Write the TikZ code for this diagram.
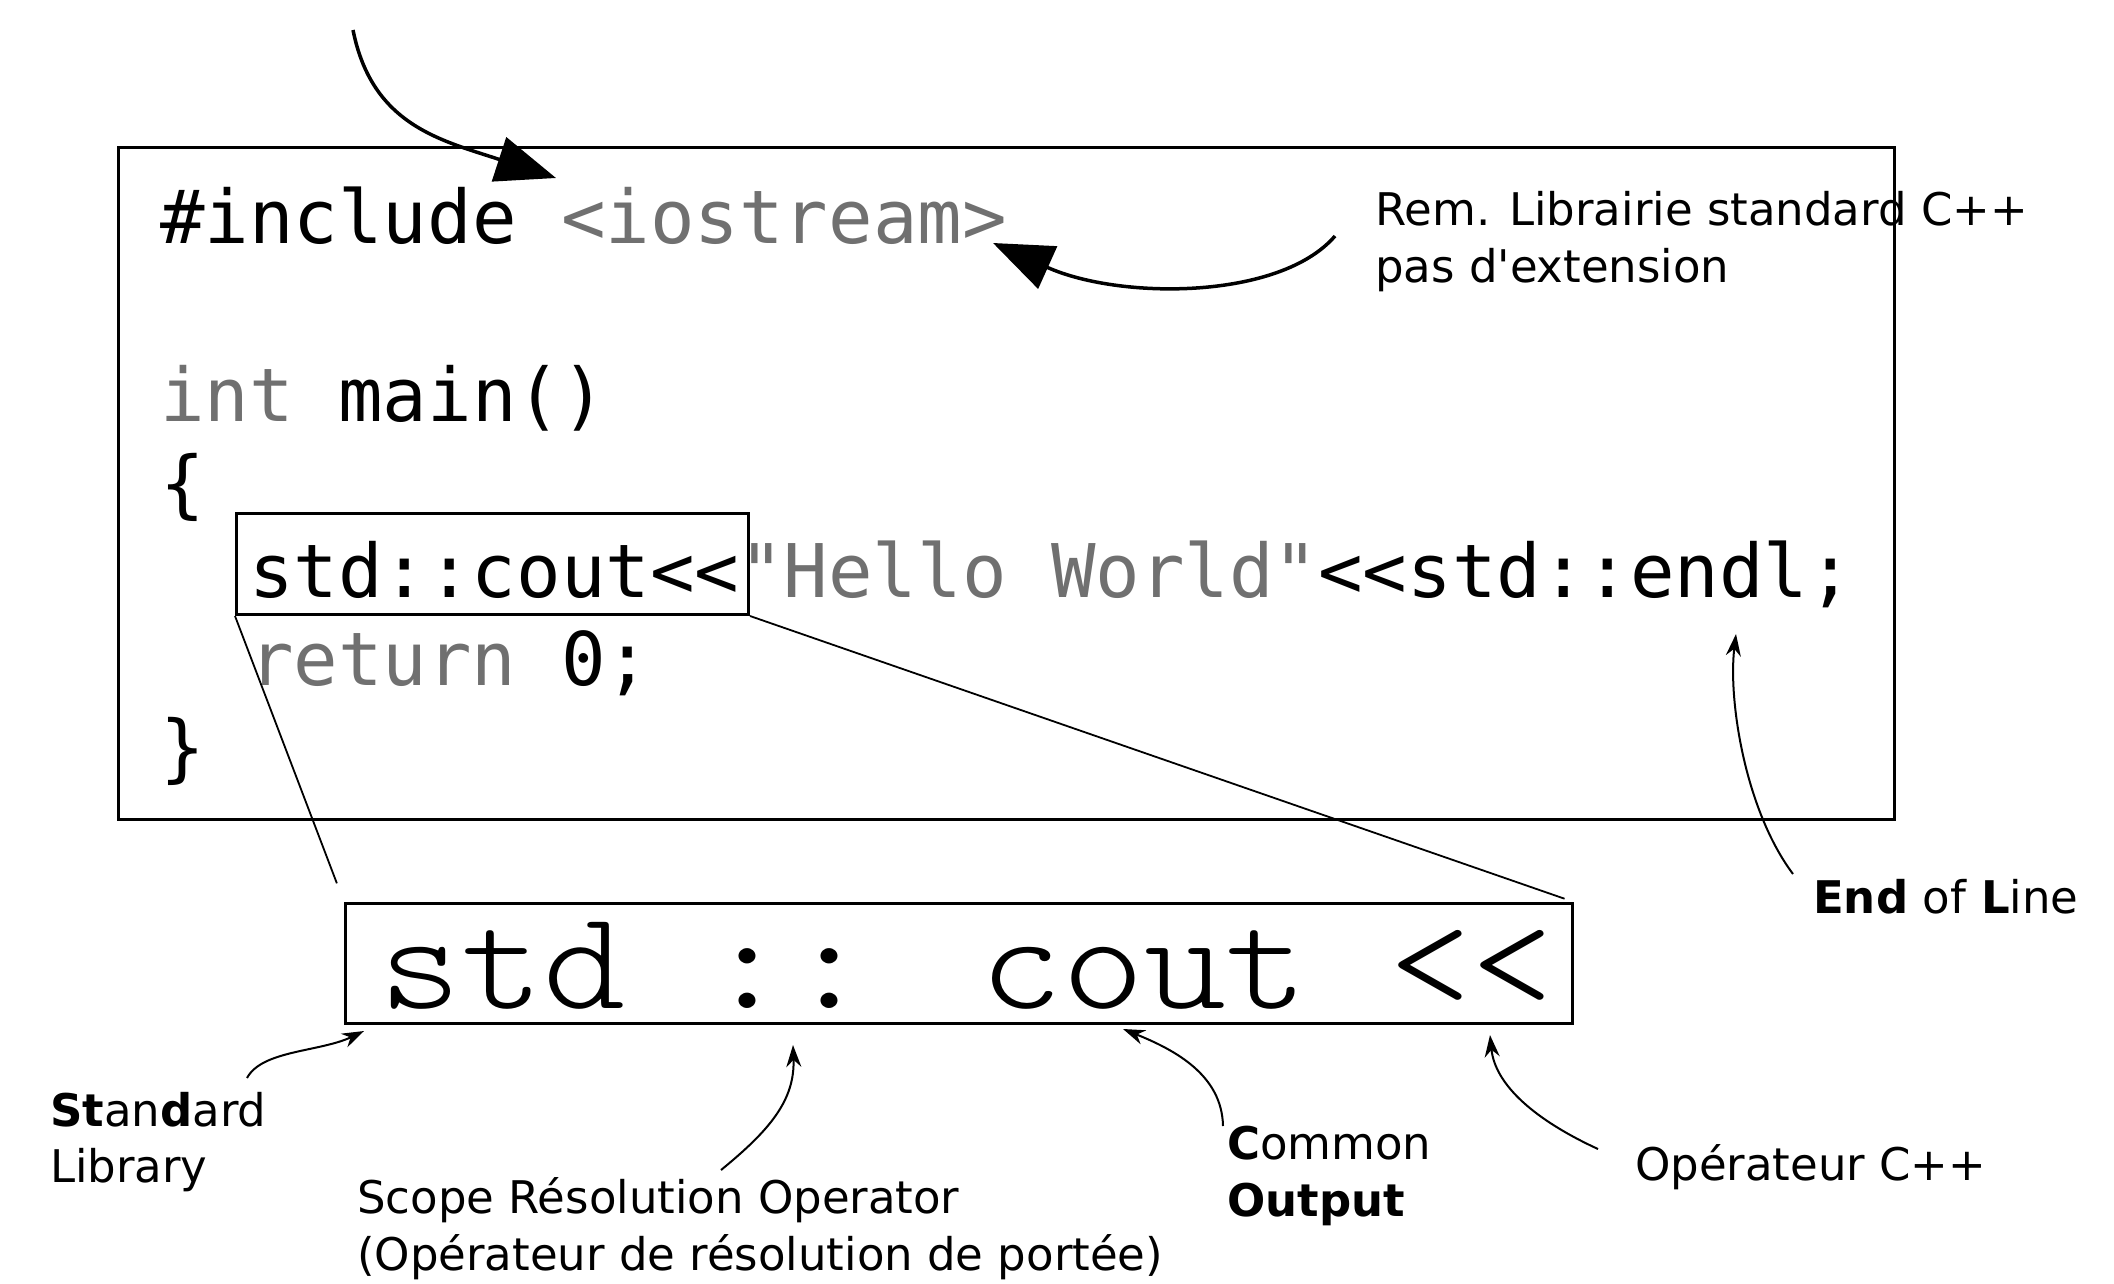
\documentclass[tikz,border=0pt]{standalone}
\usepackage{fontspec}
\usepackage{graphicx}
\usetikzlibrary{arrows.meta}
\newfontfamily\codefont{DejaVu Sans Mono}[Ligatures=TeXOff]
\newfontfamily\annfont{DejaVu Sans}[Ligatures=TeXOff]
\definecolor{codegray}{HTML}{707070}
\begin{document}
\begin{tikzpicture}[x=1pt,y=-1pt,
  codeline/.style={anchor=base west, inner sep=0pt, font=\codefont\fontsize{74}{80}\selectfont},
  ann/.style={anchor=base west, inner sep=0pt, font=\annfont\fontsize{45}{54}\selectfont},
  framebox/.style={draw, line width=3pt, inner sep=0pt, anchor=north west},
  thinarrow/.style={line width=2pt, -{Stealth[length=22pt,width=15pt]}},
  bigarrow/.style={line width=3.5pt, -{Triangle[length=60pt,width=46pt]}},
  zoomline/.style={line width=1.8pt}]
\useasboundingbox (0,0) rectangle (2114,1283);
\fill[white] (0,0) rectangle (2114,1283);

% code lines
\node[codeline] (l1) at (160,243) {\#include \textcolor{codegray}{<iostream>}};
\node[codeline] (l2) at (160,421) {\textcolor{codegray}{int} main()};
\node[codeline] (l3) at (160,509) {\{};
\node[codeline] (l4) at (249,597) {std::cout<{}<\textcolor{codegray}{"Hello World"}<{}<std::endl;};
\node[codeline] (l5) at (249,685) {\textcolor{codegray}{return} 0;};
\node[codeline] (l6) at (160,773) {\}};

% annotations
\node[ann] (rem1) at (1375,225) {Rem. Librairie standard C++};
\node[ann] (rem2) at (1375,282) {pas d'extension};
\node[ann] (std1) at (50,1126) {\textbf{St}an\textbf{d}ard};
\node[ann] (std2) at (50,1182) {Library};
\node[ann] (scope1) at (357,1213) {Scope Résolution Operator};
\node[ann] (scope2) at (357,1270) {(Opérateur de résolution de portée)};
\node[ann] (com1) at (1227,1159) {\textbf{C}ommon};
\node[ann] (com2) at (1227,1216) {\textbf{Output}};
\node[ann] (op) at (1635,1180) {Opérateur C++};
\node[ann] (eol) at (1813,913) {\textbf{End} of \textbf{L}ine};

% boxes
\node[framebox, line width=2.5pt, minimum width=1776pt, minimum height=672pt] (mainbox) at (117,146) {};
\node[framebox, minimum width=512pt, minimum height=101pt] (sbox) at (235,512) {};
\node[framebox, minimum width=1227pt, minimum height=120pt] (bbox) at (344,902) {};
\node[anchor=base west, inner sep=0pt] (bigtxt) at (379,1008)
  {\scalebox{1.107}[1]{\fontsize{141}{150}\fontseries{l}\ttfamily\selectfont std :: cout <{}<}};

% zoom lines
\draw[zoomline, shorten >=20pt] (sbox.south west) -- (bbox.north west);
\draw[zoomline, shorten >=10pt] (sbox.south east) -- (bbox.north east);

% coordinates for arrow ends
\coordinate (toptail) at (353,30);
\coordinate (inctip) at (556,178);
\coordinate (remtail) at (1335,236);
\coordinate (iotip) at (993,243);
\coordinate (sltail) at (247,1078);
\coordinate (sltip) at (364,1031);
\coordinate (sctail) at (721,1170);
\coordinate (sctip) at (793,1045);
\coordinate (cotail) at (1223,1126);
\coordinate (cotip) at (1123,1029);
\coordinate (optail) at (1598,1149);
\coordinate (optip) at (1490,1035);
\coordinate (eoltail) at (1793,874);
\coordinate (eoltip) at (1736,634);

% arrows
\draw[bigarrow] (toptail) .. controls (372,125) and (440,140) .. (inctip);
\draw[bigarrow] (remtail) .. controls (1280,300) and (1120,300) .. (iotip);
\draw[thinarrow] (sltail) .. controls (262,1050) and (320,1052) .. (sltip);
\draw[thinarrow] (sctail) .. controls (770,1130) and (795,1100) .. (sctip);
\draw[thinarrow] (cotail) .. controls (1222,1075) and (1175,1050) .. (cotip);
\draw[thinarrow] (optail) .. controls (1535,1120) and (1495,1085) .. (optip);
\draw[thinarrow] (eoltail) .. controls (1745,810) and (1728,700) .. (eoltip);
\end{tikzpicture}
\end{document}
